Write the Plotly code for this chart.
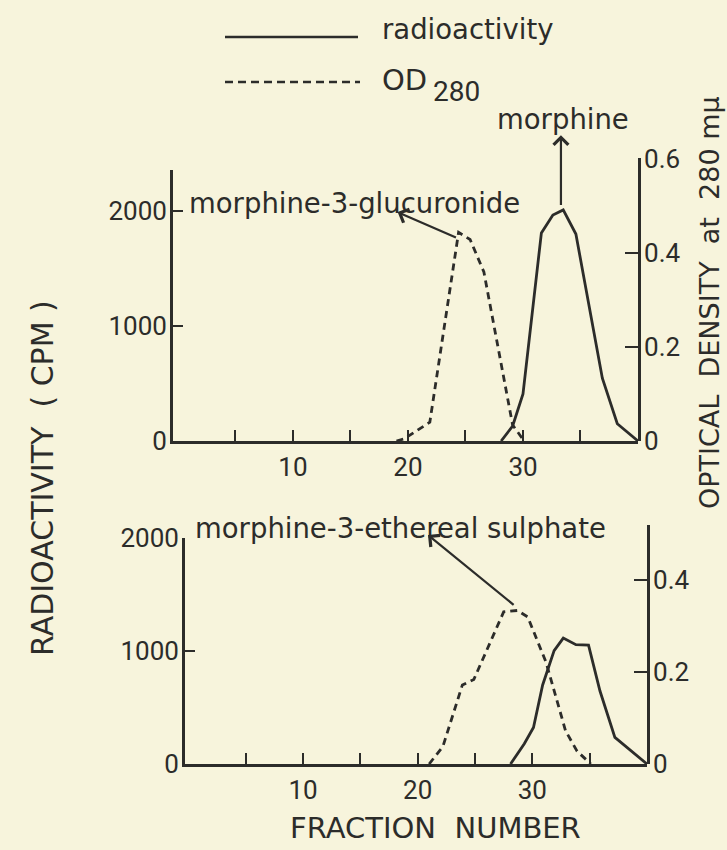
import plotly.graph_objects as go

# ---------------- data ----------------
# upper panel
rad_top_x = [28.1, 29.1, 30.0, 31.6, 32.6, 33.5, 34.6, 36.9, 38.2, 40.0]
rad_top_cpm = [0, 130, 410, 1810, 1965, 2010, 1800, 546, 150, 0]
od_top_x = [19.0, 19.7, 21.9, 24.4, 25.4, 26.6, 29.1, 30.1]
od_top_val = [0, 0.005, 0.040, 0.443, 0.428, 0.359, 0.034, 0]

# lower panel
rad_bot_x = [28.1, 29.3, 30.1, 30.9, 31.9, 32.7, 33.8, 34.9, 35.9, 37.2, 40.0]
rad_bot_cpm = [0, 179, 323, 700, 1004, 1115, 1057, 1052, 646, 236, 0]
od_bot_x = [21.0, 22.2, 23.9, 24.9, 27.5, 28.7, 29.6, 31.2, 32.9, 33.9, 35.1]
od_bot_val = [0, 0.038, 0.172, 0.184, 0.331, 0.334, 0.320, 0.221, 0.072, 0.028, 0]

x_tickvals = [5, 10, 15, 20, 25, 30, 35]
x_ticktext = ["", "10", "", "20", "", "30", ""]
cpm_tickvals = [0, 1000, 2000]
cpm_ticktext = ["0", "1000", "2000"]
od_top_tickvals = [0, 0.2, 0.4, 0.6]
od_top_ticktext = ["0", "0.2", "0.4", "0.6"]
od_bot_tickvals = [0, 0.2, 0.4]
od_bot_ticktext = ["0", "0.2", "0.4"]

# ---------------- styling ----------------
W, H = 727, 850
INK = "#2c2c2a"
BG = "#f7f4dc"
TXT = "DejaVu Sans"
NUM = "Roboto"
LW = 2.8
DASH = "7px,5px"


def px(x):
    return x / W


def py(y):
    return 1 - y / H


fig = go.Figure()

fig.add_trace(go.Scatter(x=rad_top_x, y=rad_top_cpm, xaxis="x", yaxis="y",
                         mode="lines", line=dict(color=INK, width=LW)))
fig.add_trace(go.Scatter(x=od_top_x, y=od_top_val, xaxis="x", yaxis="y2",
                         mode="lines", line=dict(color=INK, width=LW, dash=DASH)))
fig.add_trace(go.Scatter(x=rad_bot_x, y=rad_bot_cpm, xaxis="x2", yaxis="y3",
                         mode="lines", line=dict(color=INK, width=LW)))
fig.add_trace(go.Scatter(x=od_bot_x, y=od_bot_val, xaxis="x2", yaxis="y4",
                         mode="lines", line=dict(color=INK, width=LW, dash=DASH)))

common_axis = dict(showline=True, linecolor=INK, linewidth=LW, ticks="inside",
                   tickcolor=INK, tickwidth=2.2, showgrid=False, zeroline=False,
                   automargin=False,
                   tickfont=dict(family=NUM, size=26, color=INK), fixedrange=True)

xcommon = dict(common_axis, ticklen=11, tickvals=x_tickvals, ticktext=x_ticktext,
               ticklabelstandoff=1)

fig.update_layout(
    template="none",
    width=W, height=H, autosize=False,
    margin=dict(l=0, r=0, t=0, b=0, pad=0),
    paper_bgcolor=BG, plot_bgcolor="rgba(0,0,0,0)",
    showlegend=False, hovermode=False,
    xaxis=dict(xcommon, domain=[px(173), px(638)], range=[-0.43, 40], anchor="y"),
    yaxis=dict(common_axis, domain=[py(441), py(170)], range=[0, 2357], anchor="x",
               side="left", ticklen=10, tickvals=cpm_tickvals, ticktext=cpm_ticktext,
               ticklabelstandoff=-2),
    yaxis2=dict(common_axis, domain=[py(441), py(158)], range=[0, 0.601], anchor="x",
                side="right", ticklen=13, tickvals=od_top_tickvals, ticktext=od_top_ticktext,
                ticklabelstandoff=-2),
    xaxis2=dict(xcommon, domain=[px(185), px(647)], range=[-0.29, 40], anchor="y3"),
    yaxis3=dict(common_axis, domain=[py(764), py(538)], range=[0, 2001], anchor="x2",
                side="left", ticklen=10, tickvals=cpm_tickvals, ticktext=cpm_ticktext,
                ticklabelstandoff=-2),
    yaxis4=dict(common_axis, domain=[py(764), py(525)], range=[0, 0.52], anchor="x2",
                side="right", ticklen=13, tickvals=od_bot_tickvals, ticktext=od_bot_ticktext,
                ticklabelstandoff=-2),
)

# legend samples
fig.add_shape(type="line", xref="paper", yref="paper", x0=px(225), x1=px(358),
              y0=py(37), y1=py(37), line=dict(color=INK, width=2.4))
fig.add_shape(type="line", xref="paper", yref="paper", x0=px(225), x1=px(360),
              y0=py(82), y1=py(82), line=dict(color=INK, width=2.4, dash="8px,5px"))


def label(text, x, y, size, xanchor="left", family=TXT, angle=0):
    fig.add_annotation(text=text, xref="paper", yref="paper", x=px(x), y=py(y),
                       xanchor=xanchor, yanchor="middle", showarrow=False,
                       textangle=angle, font=dict(family=family, size=size, color=INK))


label("radioactivity", 380, 29, 27.5)
label("OD", 380, 80, 29)
label("280", 431, 91, 28, family=NUM)
label("morphine", 563, 119, 27.5, xanchor="center")
label("morphine-3-glucuronide", 187, 203, 27.5)
label("morphine-3-ethereal sulphate", 193, 528, 27.5)
label("FRACTION  NUMBER", 435, 828, 29, xanchor="center")
label("RADIOACTIVITY  ( CPM )", 42, 478, 30, xanchor="center", angle=-90)
label("OPTICAL  DENSITY  at  280 mμ", 709, 303, 27, xanchor="center", angle=-90)

# arrows pointing from peaks to their labels
arrow = dict(showarrow=True, arrowhead=4, arrowsize=1.3, arrowwidth=2.2,
             arrowcolor=INK, text="", standoff=0, startstandoff=0)
fig.add_annotation(arrow, xref="x", yref="y", axref="x", ayref="y",
                   x=33.3, y=2660, ax=33.3, ay=2040)
fig.add_annotation(arrow, xref="x", yref="y", axref="x", ayref="y",
                   x=19.1, y=1991, ax=24.3, ay=1765)
fig.add_annotation(arrow, xref="x2", yref="y3", axref="x2", ayref="y3",
                   x=20.9, y=2027, ax=28.5, ay=1398)

fig.write_html("out.html")
